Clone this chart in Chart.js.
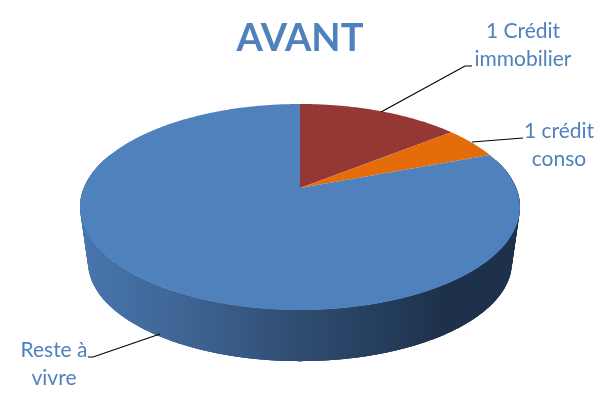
<!DOCTYPE html>
<html>
<head>
<meta charset="utf-8">
<style>
html, body { margin: 0; padding: 0; background: #fff; }
#wrap { width: 600px; height: 400px; }
</style>
</head>
<body>
<div id="wrap"><canvas id="charts"></canvas></div>
<script src="https://cdn.jsdelivr.net/npm/chart.js@4"></script>
<script>
var labels = [['1 Crédit', 'immobilier'], ['1 crédit', 'conso'], ['Reste à', 'vivre']];
var values = [14.25, 5, 80.75];
var colors = ['#953735', '#e46c0a', '#4f81bd'];

// where the labels and their leader lines sit
var labelX = [523, 559, 54];
var labelY = [38, 138, 357];
var leaders = [
    [[381, 112], [465, 66], [472, 66]],
    [[472, 142], [523, 138]],
    [[160, 334], [93, 357], [88, 357]]
];

// perspective of the disc: apex at (300,188), rim ellipse around (300,207)
var k = -0.1845;
function project(a, r, dx, dy) {
    var u = Math.cos(a) * r, v = Math.sin(a) * r;
    var w = 1 + k * v;
    return [300 + dx * u / w, 188 + dy + 99.5 * v / w];
}
function rim(a) { return project(a, 1, 216.2, 0); }
function under(a) {
    var p = project(a, 1, 208.3, 0);
    return [p[0], 188 + 56 + (p[1] - 188) * 0.96];
}

function poly(ctx, from, to, fn) {
    var n = Math.ceil(Math.abs(to - from) / 0.01);
    for (var i = 0; i <= n; i++) {
        var p = fn(from + (to - from) * i / n);
        ctx.lineTo(p[0], p[1]);
    }
}

var pie3d = {
    id: 'pie3d',
    beforeDatasetsDraw: function (chart) {
        var ctx = chart.ctx;
        var g = ctx.createLinearGradient(80, 0, 520, 0);
        g.addColorStop(0, '#4876ae');
        g.addColorStop(0.27, '#3d6290');
        g.addColorStop(0.5, '#2f4c70');
        g.addColorStop(0.73, '#223a58');
        g.addColorStop(0.82, '#1d314b');
        g.addColorStop(1, '#1d314b');
        ctx.save();
        ctx.fillStyle = g;
        // side wall, short overlapping pieces so no seams show
        for (var a = -0.3; a < Math.PI + 0.3; a += 0.03) {
            ctx.beginPath();
            poly(ctx, a, a + 0.09, rim);
            poly(ctx, a + 0.09, a, under);
            ctx.closePath();
            ctx.fill();
        }
        // top face, angles come from the arc elements
        chart.getDatasetMeta(0).data.forEach(function (arc, i) {
            var p = arc.getProps(['startAngle', 'endAngle']);
            ctx.beginPath();
            ctx.moveTo(300, 188);
            poly(ctx, p.startAngle, p.endAngle, rim);
            ctx.closePath();
            ctx.fillStyle = colors[i];
            ctx.fill();
        });
        ctx.restore();
        return false;
    },
    afterDraw: function (chart) {
        var ctx = chart.ctx;
        ctx.save();
        ctx.strokeStyle = '#000';
        ctx.lineWidth = 1.2;
        leaders.forEach(function (l) {
            ctx.beginPath();
            l.forEach(function (p, i) {
                if (i == 0) ctx.moveTo(p[0], p[1]); else ctx.lineTo(p[0], p[1]);
            });
            ctx.stroke();
        });
        ctx.fillStyle = '#4f81bd';
        ctx.font = '21px Lato';
        ctx.textAlign = 'center';
        ctx.textBaseline = 'alphabetic';
        labels.forEach(function (lines, i) {
            lines.forEach(function (t, j) {
                ctx.fillText(t, labelX[i], labelY[i] + j * 27.5);
            });
        });
        ctx.restore();
    }
};

var ctx = document.getElementById('charts');
new Chart(ctx, {
    type: 'pie',
    data: {
        labels: labels,
        datasets: [{
            data: values,
            backgroundColor: colors,
            borderWidth: 0
        }]
    },
    options: {
        responsive: true,
        maintainAspectRatio: false,
        animation: false,
        plugins: {
            legend: { display: false },
            tooltip: { enabled: false },
            title: {
                display: true,
                text: 'AVANT',
                color: '#4f81bd',
                font: { family: 'Lato', size: 38, weight: 'bold' },
                padding: { top: 16, bottom: 10 }
            }
        }
    },
    plugins: [pie3d]
});
</script>
</body>
</html>
